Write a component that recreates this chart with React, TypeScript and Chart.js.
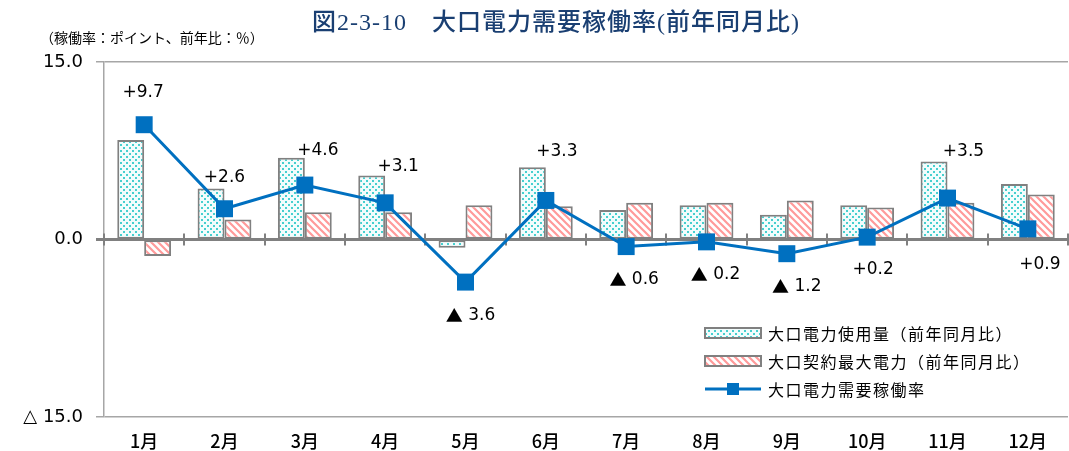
import React, { useEffect, useRef } from 'react';
import { Chart, registerables } from 'chart.js';

Chart.register(...registerables);

// ---- data ----
const months = ['1月', '2月', '3月', '4月', '5月', '6月', '7月', '8月', '9月', '10月', '11月', '12月'];
const usageYoY = [8.4, 4.3, 6.9, 5.4, -0.7, 6.1, 2.5, 2.9, 2.1, 2.9, 6.6, 4.7];
const contractYoY = [-1.4, 1.7, 2.3, 2.3, 2.9, 2.8, 3.1, 3.1, 3.3, 2.7, 3.1, 3.8];
const utilization = [9.7, 2.6, 4.6, 3.1, -3.6, 3.3, -0.6, -0.2, -1.2, 0.2, 3.5, 0.9];
const yTickValues = [-15, 0, 15];
const seriesNames = ['大口電力使用量（前年同月比）', '大口契約最大電力（前年同月比）', '大口電力需要稼働率'];
const titleText = '図2-3-10　大口電力需要稼働率(前年同月比)';
const unitNote = '（稼働率：ポイント、前年比：％）';

// ---- styling (label placement offsets relative to the marker) ----
const labelOffsets: [number, number][] = [
  [-1, -32], [0, -31], [13, -34], [13, -36], [5, 33], [11, -49],
  [8, 33], [9, 33], [10, 33], [6, 32], [16, -47], [12, 36],
];
const LINE_COLOR = '#0070C0';
const BORDER_GRAY = '#808080';
const GRID_GRAY = '#A6A6A6';
const NUM = '"DejaVu Sans", "Noto Sans CJK JP", sans-serif';
const CJK = '"Noto Sans CJK JP", "DejaVu Sans", sans-serif';

function fmtTick(v: number): string {
  if (v < 0) return '△ ' + Math.abs(v).toFixed(1);
  return v.toFixed(1);
}

function makeDots(): CanvasPattern | string {
  const c = document.createElement('canvas');
  c.width = 6; c.height = 6;
  const g = c.getContext('2d');
  if (!g) return '#9EE';
  g.fillStyle = '#F2FCFC';
  g.fillRect(0, 0, 6, 6);
  g.fillStyle = '#45CFCF';
  g.fillRect(0, 0, 2, 2);
  g.fillRect(3, 3, 2, 2);
  return g.createPattern(c, 'repeat') || '#9EE';
}

function makeHatch(): CanvasPattern | string {
  const s = 7;
  const c = document.createElement('canvas');
  c.width = s; c.height = s;
  const g = c.getContext('2d');
  if (!g) return '#FBB';
  g.fillStyle = '#FFFFFF';
  g.fillRect(0, 0, s, s);
  g.strokeStyle = '#FF9A9A';
  g.lineWidth = 2.2;
  g.beginPath();
  for (const k of [-s, 0, s]) {
    g.moveTo(k - 1, -1);
    g.lineTo(k + s + 1, s + 1);
  }
  g.stroke();
  return g.createPattern(c, 'repeat') || '#FBB';
}

export default function App() {
  const ref = useRef<HTMLCanvasElement | null>(null);

  useEffect(() => {
    if (!ref.current) return;
    const dots = makeDots();
    const hatch = makeHatch();

    const decor = {
      id: 'decor',
      beforeDatasetsDraw(chart: any) {
        const { ctx, chartArea, scales } = chart;
        const y0 = scales.y.getPixelForValue(0);
        ctx.save();
        ctx.strokeStyle = BORDER_GRAY;
        ctx.lineWidth = 3;
        ctx.beginPath();
        ctx.moveTo(chartArea.left - 8, y0);
        ctx.lineTo(chartArea.right, y0);
        ctx.stroke();
        ctx.lineWidth = 2;
        const n = months.length;
        const w = (chartArea.right - chartArea.left) / n;
        ctx.beginPath();
        for (let k = 0; k <= n; k++) {
          const x = Math.round(chartArea.left + k * w);
          ctx.moveTo(x, y0 - 6);
          ctx.lineTo(x, y0 + 6);
        }
        ctx.stroke();
        ctx.restore();
      },
      afterDraw(chart: any) {
        const { ctx } = chart;
        ctx.save();
        // title
        ctx.fillStyle = '#1A3F72';
        ctx.font = '500 24px "Liberation Serif", "Noto Sans CJK JP", serif';
        ctx.textAlign = 'center';
        ctx.textBaseline = 'middle';
        (ctx as any).letterSpacing = '1px';
        ctx.fillText(titleText, 556, 24);
        (ctx as any).letterSpacing = '0px';
        // unit note
        ctx.fillStyle = '#000';
        ctx.font = '14px ' + CJK;
        ctx.textAlign = 'left';
        ctx.fillText(unitNote, 40, 38);

        // data labels
        const meta = chart.getDatasetMeta(2);
        ctx.fillStyle = '#000';
        ctx.textAlign = 'left';
        utilization.forEach((v, i) => {
          const p = meta.data[i];
          const [dx, dy] = labelOffsets[i];
          const cx = p.x + dx;
          const cy = p.y + dy;
          if (v < 0) {
            const tri = '▲';
            const num = ' ' + Math.abs(v).toFixed(1);
            ctx.font = '17px ' + CJK;
            const wt = ctx.measureText(tri).width;
            ctx.font = '17px ' + NUM;
            const wn = ctx.measureText(num).width;
            const x0 = cx - (wt + wn) / 2;
            ctx.font = '17px ' + CJK;
            ctx.fillText(tri, x0, cy);
            ctx.font = '17px ' + NUM;
            ctx.fillText(num, x0 + wt, cy);
          } else {
            ctx.font = '17px ' + NUM;
            const t = '+' + v.toFixed(1);
            const w = ctx.measureText(t).width;
            ctx.fillText(t, cx - w / 2, cy);
          }
        });

        // legend
        const rows = [333, 361, 389];
        const bx = 705, bw = 56, bh = 10;
        ctx.textAlign = 'left';
        ctx.textBaseline = 'middle';
        [dots, hatch].forEach((fill, i) => {
          const y = rows[i];
          ctx.fillStyle = fill as any;
          ctx.fillRect(bx, y - bh / 2, bw, bh);
          ctx.strokeStyle = BORDER_GRAY;
          ctx.lineWidth = 2;
          ctx.strokeRect(bx, y - bh / 2, bw, bh);
        });
        ctx.strokeStyle = LINE_COLOR;
        ctx.lineWidth = 3;
        ctx.beginPath();
        ctx.moveTo(bx, rows[2]);
        ctx.lineTo(bx + bw, rows[2]);
        ctx.stroke();
        ctx.fillStyle = LINE_COLOR;
        ctx.fillRect(bx + bw / 2 - 6, rows[2] - 6, 12, 12);
        ctx.fillStyle = '#000';
        ctx.font = '16px ' + CJK;
        (ctx as any).letterSpacing = '1.5px';
        seriesNames.forEach((name, i) => {
          ctx.fillText(name, 768, rows[i] + 1);
        });
        (ctx as any).letterSpacing = '0px';
        ctx.restore();
      },
    };

    const chart = new Chart(ref.current, {
      type: 'bar',
      data: {
        labels: months,
        datasets: [
          {
            type: 'bar',
            label: seriesNames[0],
            data: usageYoY,
            backgroundColor: dots as any,
            borderColor: BORDER_GRAY,
            borderWidth: 2,
            borderSkipped: false,
            categoryPercentage: 0.67,
            barPercentage: 1.0,
            order: 1,
          },
          {
            type: 'bar',
            label: seriesNames[1],
            data: contractYoY,
            backgroundColor: hatch as any,
            borderColor: BORDER_GRAY,
            borderWidth: 2,
            borderSkipped: false,
            categoryPercentage: 0.67,
            barPercentage: 1.0,
            order: 2,
          },
          {
            type: 'line',
            label: seriesNames[2],
            data: utilization,
            borderColor: LINE_COLOR,
            backgroundColor: LINE_COLOR,
            borderWidth: 3,
            pointStyle: 'rect',
            pointRadius: 12,
            pointBorderWidth: 0,
            pointBackgroundColor: LINE_COLOR,
            tension: 0,
            order: 0,
          } as any,
        ],
      },
      options: {
        responsive: false,
        animation: false,
        events: [],
        layout: { autoPadding: false, padding: { top: 62, right: 1, left: 0, bottom: 0 } },
        plugins: {
          legend: { display: false },
          tooltip: { enabled: false },
          title: { display: false },
        },
        scales: {
          x: {
            grid: { display: false, drawTicks: false },
            border: { display: false },
            ticks: {
              color: '#000',
              font: { family: CJK, size: 18, weight: '500' as any },
              padding: 13,
              maxRotation: 0,
              autoSkip: false,
            },
            afterFit(scale: any) {
              scale.height = 34;
              scale.paddingLeft = 0;
              scale.paddingRight = 0;
            },
          },
          y: {
            min: -15,
            max: 15,
            afterBuildTicks(scale: any) {
              scale.ticks = yTickValues.map((v) => ({ value: v }));
            },
            grid: {
              color: (c: any) => (c.tick && c.tick.value === 0 ? 'rgba(0,0,0,0)' : GRID_GRAY),
              tickColor: GRID_GRAY,
              lineWidth: 1.5,
              tickLength: 8,
            },
            border: { display: true, color: GRID_GRAY, width: 1.5 },
            ticks: {
              color: '#000',
              font: { family: NUM, size: 18 },
              padding: 13,
              callback: (v: any) => fmtTick(Number(v)),
            },
            afterFit(scale: any) {
              scale.width = 104;
            },
          },
        },
      },
      plugins: [decor],
    });
    return () => chart.destroy();
  }, []);

  return (
    <div style={{ position: 'absolute', left: 0, top: 0, width: 1069, height: 451, background: '#fff' }}>
      <canvas ref={ref} width={1069} height={451} style={{ display: 'block' }} />
    </div>
  );
}
